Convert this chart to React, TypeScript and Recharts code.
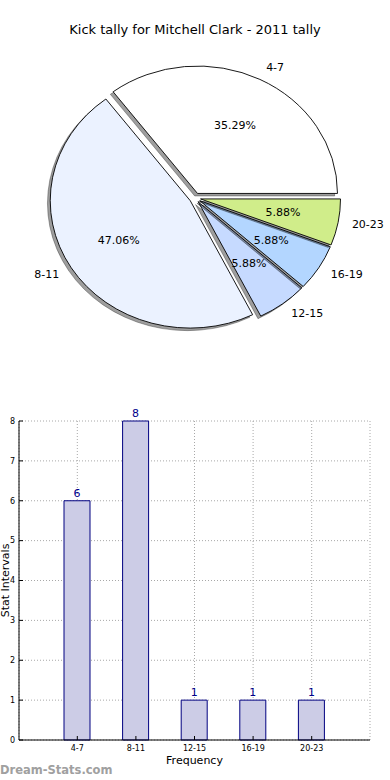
import React from 'react';
import {
  PieChart,
  Pie,
  Cell,
  BarChart,
  Bar,
  XAxis,
  YAxis,
  CartesianGrid,
  LabelList,
} from 'recharts';

const categories = ['4-7', '8-11', '12-15', '16-19', '20-23'];
const counts = [6, 8, 1, 1, 1];
const sliceColors = ['#ffffff', '#ebf2ff', '#c6daff', '#b3d6ff', '#d0ed8a'];
const yTicks = [0, 1, 2, 3, 4, 5, 6, 7, 8];

const data = categories.map((cat, i) => ({ cat, count: counts[i] }));

const FONT = '"DejaVu Sans", sans-serif';
const RAD = Math.PI / 180;
// matplotlib pie without equal aspect comes out slightly squashed
const SQUASH = 0.91;
const EXPLODE = 0.04;

const pt = (cx: number, cy: number, r: number, deg: number) => [
  cx + r * Math.cos(deg * RAD),
  cy - r * SQUASH * Math.sin(deg * RAD),
];

const slicePath = (cx: number, cy: number, r: number, a0: number, a1: number) => {
  const [x0, y0] = pt(cx, cy, r, a0);
  const [x1, y1] = pt(cx, cy, r, a1);
  const large = a1 - a0 > 180 ? 1 : 0;
  return `M${cx},${cy} L${x0},${y0} A${r},${r * SQUASH} 0 ${large} 0 ${x1},${y1} Z`;
};

const Slice = (props: any) => {
  const { cx, cy, outerRadius, startAngle, endAngle, fill } = props;
  const mid = (startAngle + endAngle) / 2;
  const [ex, ey] = pt(cx, cy, outerRadius * EXPLODE, mid);
  const sx = -0.02 * outerRadius;
  const sy = 0.02 * outerRadius * SQUASH;
  return (
    <g>
      <path
        d={slicePath(ex + sx, ey + sy, outerRadius, startAngle, endAngle)}
        fill="#000"
        fillOpacity={0.38}
        stroke="#000"
        strokeOpacity={0.3}
      />
      <path
        d={slicePath(ex, ey, outerRadius, startAngle, endAngle)}
        fill={fill}
        stroke="#000"
        strokeWidth={0.9}
      />
    </g>
  );
};

const renderPieLabel = (props: any) => {
  const { cx, cy, outerRadius, startAngle, endAngle, percent, name } = props;
  const mid = (startAngle + endAngle) / 2;
  const [ex, ey] = pt(cx, cy, outerRadius * EXPLODE, mid);
  const [lx, ly] = pt(ex, ey, outerRadius * 1.1, mid);
  const [px, py] = pt(ex, ey, outerRadius * 0.6, mid);
  return (
    <g>
      <text
        x={lx}
        y={ly}
        textAnchor={Math.cos(mid * RAD) > 0 ? 'start' : 'end'}
        dominantBaseline="central"
        fontSize={11}
        fill="#000"
        fontFamily={FONT}
      >
        {name}
      </text>
      <text
        x={px}
        y={py}
        textAnchor="middle"
        dominantBaseline="central"
        fontSize={11}
        fill="#000"
        fontFamily={FONT}
      >
        {(percent * 100).toFixed(2)}%
      </text>
    </g>
  );
};

const App = () => {
  return (
    <div
      style={{
        position: 'absolute',
        left: 0,
        top: 0,
        width: 390,
        height: 780,
        background: '#fff',
        fontFamily: FONT,
      }}
    >
      <div
        style={{
          position: 'absolute',
          top: 22,
          left: 0,
          width: 390,
          textAlign: 'center',
          fontSize: 13,
          lineHeight: '16px',
          color: '#000',
        }}
      >
        Kick tally for Mitchell Clark - 2011 tally
      </div>

      <div style={{ position: 'absolute', left: 0, top: 0 }}>
        <PieChart width={390} height={390} margin={{ top: 0, right: 0, bottom: 0, left: 0 }}>
          <Pie
            data={data}
            dataKey="count"
            nameKey="cat"
            cx={195}
            cy={198}
            outerRadius={140}
            startAngle={0}
            endAngle={360}
            isAnimationActive={false}
            labelLine={false}
            label={renderPieLabel}
            shape={Slice}
            activeShape={Slice}
            inactiveShape={Slice}
          >
            {data.map((d, i) => (
              <Cell key={d.cat} fill={sliceColors[i]} />
            ))}
          </Pie>
        </PieChart>
      </div>

      <div style={{ position: 'absolute', left: 0, top: 390 }}>
        <BarChart
          width={390}
          height={390}
          data={data}
          margin={{ top: 31, right: 20, bottom: 0, left: 0 }}
        >
          <CartesianGrid stroke="#a8a8a8" strokeDasharray="1 2" />
          <XAxis
            dataKey="cat"
            height={40}
            padding={{ left: 29, right: 29 }}
            axisLine={{ stroke: '#000' }}
            tickLine={{ stroke: '#000' }}
            tickSize={-4}
            tickMargin={9}
            tick={{ fontSize: 8, fill: '#000', fontFamily: FONT }}
            interval={0}
            label={{
              value: 'Frequency',
              position: 'insideBottom',
              offset: 16,
              fontSize: 11,
              fill: '#000',
              fontFamily: FONT,
            }}
          />
          <XAxis
            xAxisId="top"
            dataKey="cat"
            orientation="top"
            height={0}
            padding={{ left: 29, right: 29 }}
            axisLine={{ stroke: '#000' }}
            tickLine={{ stroke: '#000' }}
            tickSize={-4}
            tick={false}
          />
          <YAxis
            width={19}
            domain={[0, 8]}
            ticks={yTicks}
            axisLine={{ stroke: '#000' }}
            tickLine={{ stroke: '#000' }}
            tickSize={-4}
            tickMargin={8}
            tick={{ fontSize: 8, fill: '#000', fontFamily: FONT }}
            label={{
              value: 'Stat Intervals',
              angle: -90,
              position: 'insideLeft',
              offset: 5,
              fontSize: 11,
              fill: '#000',
              fontFamily: FONT,
              style: { textAnchor: 'middle' },
            }}
          />
          <YAxis
            yAxisId="right"
            orientation="right"
            width={0}
            domain={[0, 8]}
            ticks={yTicks}
            axisLine={{ stroke: '#000' }}
            tickLine={{ stroke: '#000' }}
            tickSize={-4}
            tick={false}
          />
          <Bar
            dataKey="count"
            barSize={26}
            fill="#ccccE6"
            stroke="#000080"
            strokeWidth={1}
            isAnimationActive={false}
          >
            <LabelList
              dataKey="count"
              position="top"
              offset={4}
              fill="#00008b"
              fontSize={11}
              fontFamily={FONT}
            />
          </Bar>
        </BarChart>
      </div>

      <div
        style={{
          position: 'absolute',
          left: 0,
          top: 762,
          fontSize: 11.5,
          fontWeight: 'bold',
          color: '#a0a0a0',
          lineHeight: '16px',
        }}
      >
        Dream-Stats.com
      </div>
    </div>
  );
};

export default App;
